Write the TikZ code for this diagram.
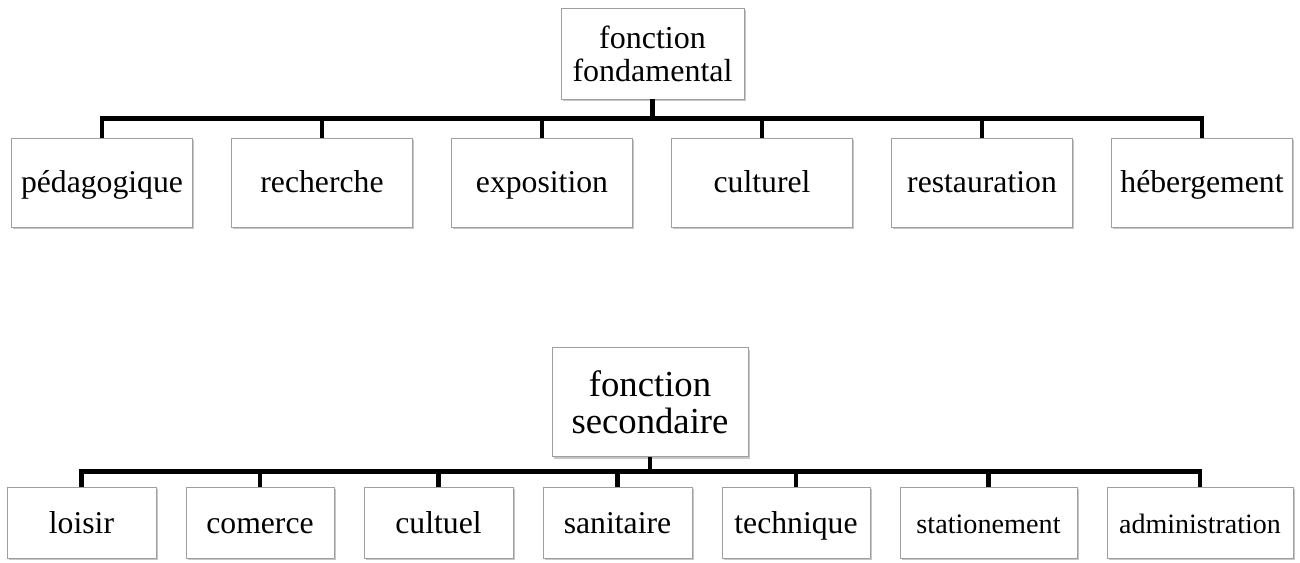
\documentclass[tikz,border=0pt]{standalone}
\usepackage{fontspec}
\setmainfont{Liberation Serif}
\usetikzlibrary{shadows}
\begin{document}
\begin{tikzpicture}[x=1pt,y=-1pt,
  box/.style={draw=gray!75, line width=0.9pt, fill=white, inner sep=0pt,
    drop shadow={shadow xshift=1.5pt,shadow yshift=-2pt,opacity=0.22,fill=black},
    align=center},
  topchild/.style={box, minimum width=181pt, minimum height=89pt, text height=22pt, text depth=3pt, font=\fontsize{31.7}{33}\selectfont},
  botchild/.style={box, minimum width=149pt, minimum height=71pt, text height=23pt, text depth=2pt, font=\fontsize{31.7}{33}\selectfont},
  conn/.style={line width=4.8pt, line cap=butt, line join=miter}]
\useasboundingbox (0,0) rectangle (1300,562);
% top tree
\node[box, minimum width=183pt, minimum height=91pt, font=\fontsize{32}{33}\selectfont] (r1) at (652.5,53.5) {fonction\\fondamental};
\node[topchild] (a1) at (102,182.5) {pédagogique};
\node[topchild] (a2) at (322,182.5) {recherche};
\node[topchild] (a3) at (542,182.5) {exposition};
\node[topchild] (a4) at (762,182.5) {culturel};
\node[topchild] (a5) at (982,182.5) {restauration};
\node[topchild] (a6) at (1202,182.5) {hébergement};
\coordinate (busA) at (652.5,118.5);
\draw[conn] (a1.north) |- (busA) -| (a6.north);
\draw[conn] (r1.south) -- (r1.south |- busA);
\foreach \n in {a2,a3,a4,a5} \draw[conn] (\n.north) -- (\n.north |- busA);
% bottom tree
\node[box, minimum width=196pt, minimum height=109pt, font=\fontsize{36.7}{37}\selectfont] (r2) at (650,402) {fonction\\secondaire};
\node[botchild] (b1) at (81.5,522.5) {loisir};
\node[botchild, minimum width=148pt] (b2) at (260,522.5) {comerce};
\node[botchild] (b3) at (438.5,522.5) {cultuel};
\node[botchild] (b4) at (617.5,522.5) {sanitaire};
\node[botchild, minimum width=148pt] (b5) at (796,522.5) {technique};
\node[botchild, minimum width=177pt, font=\fontsize{28.2}{30}\selectfont] (b6) at (988.5,522.5) {stationement};
\node[botchild, minimum width=186pt, font=\fontsize{28}{30}\selectfont] (b7) at (1200,522.5) {administration};
\coordinate (busB) at (650,471.5);
\draw[conn] (b1.north) |- (busB) -| (b7.north);
\draw[conn] (r2.south) -- (r2.south |- busB);
\foreach \n in {b2,b3,b4,b5,b6} \draw[conn] (\n.north) -- (\n.north |- busB);
\end{tikzpicture}
\end{document}
